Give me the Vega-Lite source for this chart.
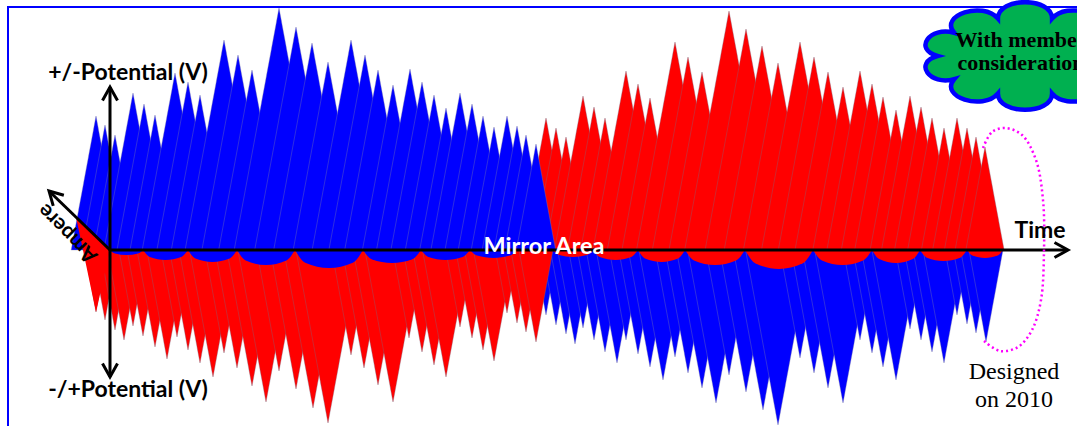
{
  "$schema": "https://vega.github.io/schema/vega-lite/v6.json",
  "width": 1077,
  "height": 426,
  "autosize": {"type": "none"},
  "padding": 0,
  "background": "white",
  "config": {"view": {"stroke": null}},
  "datasets": {
    "topBlue": [
      {"k":1,"t":71.2,"v":0},{"k":1,"t":96,"v":134},{"k":1,"t":120.8,"v":0},
      {"k":2,"t":81.9,"v":0},{"k":2,"t":105,"v":125},{"k":2,"t":128.1,"v":0},
      {"k":3,"t":93.7,"v":0},{"k":3,"t":115,"v":115},{"k":3,"t":136.3,"v":0},
      {"k":4,"t":103.9,"v":0},{"k":4,"t":133,"v":157},{"k":4,"t":162.1,"v":0},
      {"k":5,"t":117,"v":0},{"k":5,"t":144,"v":146},{"k":5,"t":171,"v":0},
      {"k":6,"t":130,"v":0},{"k":6,"t":155,"v":135},{"k":6,"t":180,"v":0},
      {"k":7,"t":142.2,"v":0},{"k":7,"t":175,"v":177},{"k":7,"t":207.8,"v":0},
      {"k":8,"t":156.9,"v":0},{"k":8,"t":188,"v":168},{"k":8,"t":219.1,"v":0},
      {"k":9,"t":171.3,"v":0},{"k":9,"t":200,"v":155},{"k":9,"t":228.7,"v":0},
      {"k":10,"t":185.1,"v":0},{"k":10,"t":224,"v":210},{"k":10,"t":262.9,"v":0},
      {"k":11,"t":201.9,"v":0},{"k":11,"t":238,"v":195},{"k":11,"t":274.1,"v":0},
      {"k":12,"t":218.7,"v":0},{"k":12,"t":252,"v":180},{"k":12,"t":285.3,"v":0},
      {"k":13,"t":234.2,"v":0},{"k":13,"t":279,"v":242},{"k":13,"t":323.8,"v":0},
      {"k":14,"t":254.7,"v":0},{"k":14,"t":296,"v":223},{"k":14,"t":337.3,"v":0},
      {"k":15,"t":273.7,"v":0},{"k":15,"t":312,"v":207},{"k":15,"t":350.3,"v":0},
      {"k":16,"t":293.2,"v":0},{"k":16,"t":328,"v":188},{"k":16,"t":362.8,"v":0},
      {"k":17,"t":312.1,"v":0},{"k":17,"t":351,"v":210},{"k":17,"t":389.9,"v":0},
      {"k":18,"t":328.9,"v":0},{"k":18,"t":365,"v":195},{"k":18,"t":401.1,"v":0},
      {"k":19,"t":344.7,"v":0},{"k":19,"t":378,"v":180},{"k":19,"t":411.3,"v":0},
      {"k":20,"t":362.4,"v":0},{"k":20,"t":393,"v":165},{"k":20,"t":423.6,"v":0},
      {"k":21,"t":376.5,"v":0},{"k":21,"t":410,"v":181},{"k":21,"t":443.5,"v":0},
      {"k":22,"t":390.9,"v":0},{"k":22,"t":422,"v":168},{"k":22,"t":453.1,"v":0},
      {"k":23,"t":405.3,"v":0},{"k":23,"t":434,"v":155},{"k":23,"t":462.7,"v":0},
      {"k":24,"t":419.7,"v":0},{"k":24,"t":446,"v":142},{"k":24,"t":472.3,"v":0},
      {"k":25,"t":430.9,"v":0},{"k":25,"t":460,"v":157},{"k":25,"t":489.1,"v":0},
      {"k":26,"t":445,"v":0},{"k":26,"t":472,"v":146},{"k":26,"t":499,"v":0},
      {"k":27,"t":458.2,"v":0},{"k":27,"t":483,"v":134},{"k":27,"t":507.8,"v":0},
      {"k":28,"t":471.2,"v":0},{"k":28,"t":494,"v":123},{"k":28,"t":516.8,"v":0},
      {"k":29,"t":482.2,"v":0},{"k":29,"t":507,"v":134},{"k":29,"t":531.8,"v":0},
      {"k":30,"t":494,"v":0},{"k":30,"t":517,"v":124},{"k":30,"t":540,"v":0},
      {"k":31,"t":504.7,"v":0},{"k":31,"t":526,"v":115},{"k":31,"t":547.3,"v":0},
      {"k":32,"t":516.4,"v":0},{"k":32,"t":536,"v":106},{"k":32,"t":555.6,"v":0}
    ],
    "topRed": [
      {"k":1,"t":521.6,"v":0},{"k":1,"t":546,"v":132},{"k":1,"t":570.4,"v":0},
      {"k":2,"t":533.4,"v":0},{"k":2,"t":556,"v":122},{"k":2,"t":578.6,"v":0},
      {"k":3,"t":545.1,"v":0},{"k":3,"t":566,"v":113},{"k":3,"t":586.9,"v":0},
      {"k":4,"t":554.5,"v":0},{"k":4,"t":583,"v":154},{"k":4,"t":611.5,"v":0},
      {"k":5,"t":567.5,"v":0},{"k":5,"t":594,"v":143},{"k":5,"t":620.5,"v":0},
      {"k":6,"t":580.6,"v":0},{"k":6,"t":605,"v":132},{"k":6,"t":629.4,"v":0},
      {"k":7,"t":592.9,"v":0},{"k":7,"t":626,"v":179},{"k":7,"t":659.1,"v":0},
      {"k":8,"t":607.3,"v":0},{"k":8,"t":638,"v":166},{"k":8,"t":668.7,"v":0},
      {"k":9,"t":621.9,"v":0},{"k":9,"t":650,"v":152},{"k":9,"t":678.1,"v":0},
      {"k":10,"t":636.5,"v":0},{"k":10,"t":675,"v":208},{"k":10,"t":713.5,"v":0},
      {"k":11,"t":652.3,"v":0},{"k":11,"t":688,"v":193},{"k":11,"t":723.7,"v":0},
      {"k":12,"t":669,"v":0},{"k":12,"t":702,"v":178},{"k":12,"t":735,"v":0},
      {"k":13,"t":684.7,"v":0},{"k":13,"t":729,"v":239},{"k":13,"t":773.3,"v":0},
      {"k":14,"t":705.1,"v":0},{"k":14,"t":746,"v":221},{"k":14,"t":786.9,"v":0},
      {"k":15,"t":724.2,"v":0},{"k":15,"t":762,"v":204},{"k":15,"t":799.8,"v":0},
      {"k":16,"t":743.4,"v":0},{"k":16,"t":778,"v":187},{"k":16,"t":812.6,"v":0},
      {"k":17,"t":761.5,"v":0},{"k":17,"t":800,"v":208},{"k":17,"t":838.5,"v":0},
      {"k":18,"t":778.3,"v":0},{"k":18,"t":814,"v":193},{"k":18,"t":849.7,"v":0},
      {"k":19,"t":795,"v":0},{"k":19,"t":828,"v":178},{"k":19,"t":861,"v":0},
      {"k":20,"t":812.8,"v":0},{"k":20,"t":843,"v":163},{"k":20,"t":873.2,"v":0},
      {"k":21,"t":826.9,"v":0},{"k":21,"t":860,"v":179},{"k":21,"t":893.1,"v":0},
      {"k":22,"t":841.3,"v":0},{"k":22,"t":872,"v":166},{"k":22,"t":902.7,"v":0},
      {"k":23,"t":854.7,"v":0},{"k":23,"t":883,"v":153},{"k":23,"t":911.3,"v":0},
      {"k":24,"t":870.1,"v":0},{"k":24,"t":896,"v":140},{"k":24,"t":921.9,"v":0},
      {"k":25,"t":881.5,"v":0},{"k":25,"t":910,"v":154},{"k":25,"t":938.5,"v":0},
      {"k":26,"t":894.5,"v":0},{"k":26,"t":921,"v":143},{"k":26,"t":947.5,"v":0},
      {"k":27,"t":907.6,"v":0},{"k":27,"t":932,"v":132},{"k":27,"t":956.4,"v":0},
      {"k":28,"t":921.4,"v":0},{"k":28,"t":944,"v":122},{"k":28,"t":966.6,"v":0},
      {"k":29,"t":932.6,"v":0},{"k":29,"t":957,"v":132},{"k":29,"t":981.4,"v":0},
      {"k":30,"t":944.4,"v":0},{"k":30,"t":967,"v":122},{"k":30,"t":989.6,"v":0},
      {"k":31,"t":955.1,"v":0},{"k":31,"t":976,"v":113},{"k":31,"t":996.9,"v":0},
      {"k":32,"t":965.9,"v":0},{"k":32,"t":985,"v":103},{"k":32,"t":1004.1,"v":0}
    ],
    "botRed": [
      {"k":1,"t":84.5,"v":0},{"k":1,"t":96,"v":-62},{"k":1,"t":107.5,"v":0},
      {"k":2,"t":92,"v":0},{"k":2,"t":105,"v":-70},{"k":2,"t":118,"v":0},
      {"k":3,"t":100.2,"v":0},{"k":3,"t":115,"v":-80},{"k":3,"t":129.8,"v":0},
      {"k":4,"t":107.3,"v":0},{"k":4,"t":124,"v":-90},{"k":4,"t":140.7,"v":0},
      {"k":5,"t":118.9,"v":0},{"k":5,"t":133,"v":-76},{"k":5,"t":147.1,"v":0},
      {"k":6,"t":127.1,"v":0},{"k":6,"t":143,"v":-86},{"k":6,"t":158.9,"v":0},
      {"k":7,"t":137,"v":0},{"k":7,"t":155,"v":-97},{"k":7,"t":173,"v":0},
      {"k":8,"t":146.8,"v":0},{"k":8,"t":167,"v":-109},{"k":8,"t":187.2,"v":0},
      {"k":9,"t":160.9,"v":0},{"k":9,"t":177,"v":-87},{"k":9,"t":193.1,"v":0},
      {"k":10,"t":169.5,"v":0},{"k":10,"t":188,"v":-100},{"k":10,"t":206.5,"v":0},
      {"k":11,"t":179.1,"v":0},{"k":11,"t":200,"v":-113},{"k":11,"t":220.9,"v":0},
      {"k":12,"t":189.5,"v":0},{"k":12,"t":213,"v":-127},{"k":12,"t":236.5,"v":0},
      {"k":13,"t":204.9,"v":0},{"k":13,"t":224,"v":-103},{"k":13,"t":243.1,"v":0},
      {"k":14,"t":215.1,"v":0},{"k":14,"t":237,"v":-118},{"k":14,"t":258.9,"v":0},
      {"k":15,"t":226.8,"v":0},{"k":15,"t":252,"v":-136},{"k":15,"t":277.2,"v":0},
      {"k":16,"t":237.9,"v":0},{"k":16,"t":266,"v":-152},{"k":16,"t":294.1,"v":0},
      {"k":17,"t":256.6,"v":0},{"k":17,"t":279,"v":-121},{"k":17,"t":301.4,"v":0},
      {"k":18,"t":270.3,"v":0},{"k":18,"t":296,"v":-139},{"k":18,"t":321.7,"v":0},
      {"k":19,"t":283.7,"v":0},{"k":19,"t":313,"v":-158},{"k":19,"t":342.3,"v":0},
      {"k":20,"t":296,"v":0},{"k":20,"t":328,"v":-173},{"k":20,"t":360,"v":0},
      {"k":21,"t":331.6,"v":0},{"k":21,"t":351,"v":-105},{"k":21,"t":370.4,"v":0},
      {"k":22,"t":342.1,"v":0},{"k":22,"t":364,"v":-118},{"k":22,"t":385.9,"v":0},
      {"k":23,"t":353,"v":0},{"k":23,"t":378,"v":-135},{"k":23,"t":403,"v":0},
      {"k":24,"t":364.9,"v":0},{"k":24,"t":393,"v":-152},{"k":24,"t":421.1,"v":0},
      {"k":25,"t":392.7,"v":0},{"k":25,"t":409,"v":-88},{"k":25,"t":425.3,"v":0},
      {"k":26,"t":403.1,"v":0},{"k":26,"t":422,"v":-102},{"k":26,"t":440.9,"v":0},
      {"k":27,"t":412.7,"v":0},{"k":27,"t":434,"v":-115},{"k":27,"t":455.3,"v":0},
      {"k":28,"t":422.5,"v":0},{"k":28,"t":446,"v":-127},{"k":28,"t":469.5,"v":0},
      {"k":29,"t":445.7,"v":0},{"k":29,"t":460,"v":-77},{"k":29,"t":474.3,"v":0},
      {"k":30,"t":455.7,"v":0},{"k":30,"t":472,"v":-88},{"k":30,"t":488.3,"v":0},
      {"k":31,"t":464.5,"v":0},{"k":31,"t":483,"v":-100},{"k":31,"t":501.5,"v":0},
      {"k":32,"t":473.4,"v":0},{"k":32,"t":494,"v":-111},{"k":32,"t":514.6,"v":0},
      {"k":33,"t":495.3,"v":0},{"k":33,"t":507,"v":-63},{"k":33,"t":518.7,"v":0},
      {"k":34,"t":503.5,"v":0},{"k":34,"t":517,"v":-73},{"k":34,"t":530.5,"v":0},
      {"k":35,"t":510.8,"v":0},{"k":35,"t":526,"v":-82},{"k":35,"t":541.2,"v":0},
      {"k":36,"t":519,"v":0},{"k":36,"t":536,"v":-92},{"k":36,"t":553,"v":0}
    ],
    "botBlue": [
      {"k":1,"t":534,"v":0},{"k":1,"t":546,"v":-65},{"k":1,"t":558,"v":0},
      {"k":2,"t":542.1,"v":0},{"k":2,"t":556,"v":-75},{"k":2,"t":569.9,"v":0},
      {"k":3,"t":550.4,"v":0},{"k":3,"t":566,"v":-84},{"k":3,"t":581.6,"v":0},
      {"k":4,"t":557.6,"v":0},{"k":4,"t":575,"v":-94},{"k":4,"t":592.4,"v":0},
      {"k":5,"t":568.6,"v":0},{"k":5,"t":583,"v":-78},{"k":5,"t":597.4,"v":0},
      {"k":6,"t":577.3,"v":0},{"k":6,"t":594,"v":-90},{"k":6,"t":610.7,"v":0},
      {"k":7,"t":586.1,"v":0},{"k":7,"t":605,"v":-102},{"k":7,"t":623.9,"v":0},
      {"k":8,"t":596.1,"v":0},{"k":8,"t":617,"v":-113},{"k":8,"t":637.9,"v":0},
      {"k":9,"t":609.3,"v":0},{"k":9,"t":626,"v":-90},{"k":9,"t":642.7,"v":0},
      {"k":10,"t":618.7,"v":0},{"k":10,"t":638,"v":-104},{"k":10,"t":657.3,"v":0},
      {"k":11,"t":628.3,"v":0},{"k":11,"t":650,"v":-117},{"k":11,"t":671.7,"v":0},
      {"k":12,"t":638.9,"v":0},{"k":12,"t":663,"v":-130},{"k":12,"t":687.1,"v":0},
      {"k":13,"t":655.2,"v":0},{"k":13,"t":675,"v":-107},{"k":13,"t":694.8,"v":0},
      {"k":14,"t":665.2,"v":0},{"k":14,"t":688,"v":-123},{"k":14,"t":710.8,"v":0},
      {"k":15,"t":676.4,"v":0},{"k":15,"t":702,"v":-138},{"k":15,"t":727.6,"v":0},
      {"k":16,"t":687.7,"v":0},{"k":16,"t":716,"v":-153},{"k":16,"t":744.3,"v":0},
      {"k":17,"t":705.9,"v":0},{"k":17,"t":729,"v":-125},{"k":17,"t":752.1,"v":0},
      {"k":18,"t":719.7,"v":0},{"k":18,"t":746,"v":-142},{"k":18,"t":772.3,"v":0},
      {"k":19,"t":733.4,"v":0},{"k":19,"t":763,"v":-160},{"k":19,"t":792.6,"v":0},
      {"k":20,"t":745.6,"v":0},{"k":20,"t":778,"v":-175},{"k":20,"t":810.4,"v":0},
      {"k":21,"t":780,"v":0},{"k":21,"t":800,"v":-108},{"k":21,"t":820,"v":0},
      {"k":22,"t":791.2,"v":0},{"k":22,"t":814,"v":-123},{"k":22,"t":836.8,"v":0},
      {"k":23,"t":802.4,"v":0},{"k":23,"t":828,"v":-138},{"k":23,"t":853.6,"v":0},
      {"k":24,"t":814.7,"v":0},{"k":24,"t":843,"v":-153},{"k":24,"t":871.3,"v":0},
      {"k":25,"t":843.3,"v":0},{"k":25,"t":860,"v":-90},{"k":25,"t":876.7,"v":0},
      {"k":26,"t":852.9,"v":0},{"k":26,"t":872,"v":-103},{"k":26,"t":891.1,"v":0},
      {"k":27,"t":861.3,"v":0},{"k":27,"t":883,"v":-117},{"k":27,"t":904.7,"v":0},
      {"k":28,"t":871.9,"v":0},{"k":28,"t":896,"v":-130},{"k":28,"t":920.1,"v":0},
      {"k":29,"t":895.4,"v":0},{"k":29,"t":910,"v":-79},{"k":29,"t":924.6,"v":0},
      {"k":30,"t":904.3,"v":0},{"k":30,"t":921,"v":-90},{"k":30,"t":937.7,"v":0},
      {"k":31,"t":913.1,"v":0},{"k":31,"t":932,"v":-102},{"k":31,"t":950.9,"v":0},
      {"k":32,"t":923.1,"v":0},{"k":32,"t":944,"v":-113},{"k":32,"t":964.9,"v":0},
      {"k":33,"t":945,"v":0},{"k":33,"t":957,"v":-65},{"k":33,"t":969,"v":0},
      {"k":34,"t":953.3,"v":0},{"k":34,"t":967,"v":-74},{"k":34,"t":980.7,"v":0},
      {"k":35,"t":960.6,"v":0},{"k":35,"t":976,"v":-83},{"k":35,"t":991.4,"v":0},
      {"k":36,"t":969,"v":0},{"k":36,"t":986,"v":-92},{"k":36,"t":1003,"v":0}
    ],
    "scallopBlue": [
      {"k":1,"t":110,"v":0},{"k":1,"t":115,"v":-3.5},{"k":1,"t":126.5,"v":-5},{"k":1,"t":138,"v":-3.5},{"k":1,"t":143,"v":0},
      {"k":2,"t":143,"v":0},{"k":2,"t":149.8,"v":-7},{"k":2,"t":165.5,"v":-10},{"k":2,"t":181.2,"v":-7},{"k":2,"t":188,"v":0},
      {"k":3,"t":188,"v":0},{"k":3,"t":195.4,"v":-8.5},{"k":3,"t":212.5,"v":-12},{"k":3,"t":229.6,"v":-8.5},{"k":3,"t":237,"v":0},
      {"k":4,"t":237,"v":0},{"k":4,"t":245.7,"v":-10.5},{"k":4,"t":266,"v":-15},{"k":4,"t":286.3,"v":-10.5},{"k":4,"t":295,"v":0},
      {"k":5,"t":295,"v":0},{"k":5,"t":305.2,"v":-12.7},{"k":5,"t":329,"v":-18},{"k":5,"t":352.8,"v":-12.7},{"k":5,"t":363,"v":0},
      {"k":6,"t":363,"v":0},{"k":6,"t":371.7,"v":-9.2},{"k":6,"t":392,"v":-13},{"k":6,"t":412.3,"v":-9.2},{"k":6,"t":421,"v":0},
      {"k":7,"t":421,"v":0},{"k":7,"t":428.4,"v":-7},{"k":7,"t":445.5,"v":-10},{"k":7,"t":462.6,"v":-7},{"k":7,"t":470,"v":0},
      {"k":8,"t":470,"v":0},{"k":8,"t":477,"v":-5.6},{"k":8,"t":493.5,"v":-8},{"k":8,"t":510,"v":-5.6},{"k":8,"t":517,"v":0}
    ],
    "scallopRed": [
      {"k":1,"t":553,"v":0},{"k":1,"t":559,"v":-5},{"k":1,"t":573,"v":-7},{"k":1,"t":587,"v":-5},{"k":1,"t":593,"v":0},
      {"k":2,"t":593,"v":0},{"k":2,"t":599.8,"v":-7},{"k":2,"t":615.5,"v":-10},{"k":2,"t":631.2,"v":-7},{"k":2,"t":638,"v":0},
      {"k":3,"t":638,"v":0},{"k":3,"t":645,"v":-8.5},{"k":3,"t":661.5,"v":-12},{"k":3,"t":678,"v":-8.5},{"k":3,"t":685,"v":0},
      {"k":4,"t":685,"v":0},{"k":4,"t":694,"v":-10.5},{"k":4,"t":715,"v":-15},{"k":4,"t":736,"v":-10.5},{"k":4,"t":745,"v":0},
      {"k":5,"t":745,"v":0},{"k":5,"t":755.2,"v":-13.3},{"k":5,"t":779,"v":-19},{"k":5,"t":802.8,"v":-13.3},{"k":5,"t":813,"v":0},
      {"k":6,"t":813,"v":0},{"k":6,"t":821.9,"v":-10.5},{"k":6,"t":842.5,"v":-15},{"k":6,"t":863.1,"v":-10.5},{"k":6,"t":872,"v":0},
      {"k":7,"t":872,"v":0},{"k":7,"t":879.2,"v":-9.1},{"k":7,"t":896,"v":-13},{"k":7,"t":912.8,"v":-9.1},{"k":7,"t":920,"v":0},
      {"k":8,"t":920,"v":0},{"k":8,"t":927,"v":-7.7},{"k":8,"t":943.5,"v":-11},{"k":8,"t":960,"v":-7.7},{"k":8,"t":967,"v":0},
      {"k":9,"t":967,"v":0},{"k":9,"t":972.4,"v":-5.6},{"k":9,"t":985,"v":-8},{"k":9,"t":997.6,"v":-5.6},{"k":9,"t":1003,"v":0}
    ],
    "wedge": [
      {"t":76,"v":33,"v2":33},
      {"t":96,"v":13.5,"v2":-62},
      {"t":110,"v":0,"v2":0}
    ],
    "segments": [
      {"t":110,"v":163,"t2":110,"v2":-127},
      {"t":110,"v":0,"t2":1067,"v2":0},
      {"t":110,"v":0,"t2":50,"v2":58}
    ],
    "tips": [
      {"a":"up","t":110,"v":163},
      {"a":"down","t":110,"v":-127},
      {"a":"right","t":1068,"v":0},
      {"a":"diag","t":49,"v":59}
    ],
    "ellipse": [
      {"i":1,"t":983,"v":102},{"i":2,"t":992,"v":118},{"i":3,"t":1005,"v":122},
      {"i":4,"t":1022,"v":115},{"i":5,"t":1036,"v":90},{"i":6,"t":1043,"v":50},
      {"i":7,"t":1044,"v":0},{"i":8,"t":1041,"v":-50},{"i":9,"t":1032,"v":-80},
      {"i":10,"t":1018,"v":-97},{"i":11,"t":1000,"v":-101},{"i":12,"t":984,"v":-91}
    ],
    "frame": [{"t":8,"v":243,"t2":1400,"v2":-400}],
    "cloud": [{"t":1025,"v":194}],
    "labels": [
      {"kind":"axis","label":"+/-Potential (V)","t":128,"v":177},
      {"kind":"axis","label":"-/+Potential (V)","t":128,"v":-140},
      {"kind":"axis","label":"Time","t":1040,"v":19},
      {"kind":"mirror","label":"Mirror Area","t":544,"v":3},
      {"kind":"ampere","label":"Ampere","t":68,"v":17},
      {"kind":"note","label":"Designed","t":1014,"v":-122},
      {"kind":"note","label":"on 2010","t":1014,"v":-150},
      {"kind":"cloud","label":"With member","t":1021,"v":210},
      {"kind":"cloud","label":"consideration","t":1021,"v":187}
    ]
  },
  "encoding": {
    "x": {"field": "t", "type": "quantitative", "scale": {"domain": [0, 1077], "nice": false, "zero": false}, "axis": null},
    "y": {"field": "v", "type": "quantitative", "scale": {"domain": [-176, 250], "nice": false, "zero": false}, "axis": null, "stack": null}
  },
  "layer": [
    {
      "data": {"name": "frame"},
      "mark": {"type": "rect", "fill": null, "fillOpacity": 0, "stroke": "#0000ff", "strokeWidth": 2},
      "encoding": {"x2": {"field": "t2"}, "y2": {"field": "v2"}}
    },
    {
      "data": {"name": "topRed"},
      "mark": {"type": "area", "color": "#ff0000", "stroke": "#7a6a80", "strokeWidth": 0.8, "strokeOpacity": 0.45},
      "encoding": {"detail": {"field": "k", "type": "nominal"}}
    },
    {
      "data": {"name": "topBlue"},
      "mark": {"type": "area", "color": "#0000ff", "stroke": "#8080a8", "strokeWidth": 0.8, "strokeOpacity": 0.45},
      "encoding": {"detail": {"field": "k", "type": "nominal"}}
    },
    {
      "data": {"name": "botBlue"},
      "mark": {"type": "area", "color": "#0000ff", "stroke": "#8080a8", "strokeWidth": 0.8, "strokeOpacity": 0.45},
      "encoding": {"detail": {"field": "k", "type": "nominal"}}
    },
    {
      "data": {"name": "botRed"},
      "mark": {"type": "area", "color": "#ff0000", "stroke": "#7a6a80", "strokeWidth": 0.8, "strokeOpacity": 0.45},
      "encoding": {"detail": {"field": "k", "type": "nominal"}}
    },
    {
      "data": {"name": "scallopBlue"},
      "mark": {"type": "area", "color": "#0000ff", "interpolate": "monotone"},
      "encoding": {"detail": {"field": "k", "type": "nominal"}, "y2": {"datum": 0}}
    },
    {
      "data": {"name": "scallopRed"},
      "mark": {"type": "area", "color": "#ff0000", "interpolate": "monotone"},
      "encoding": {"detail": {"field": "k", "type": "nominal"}, "y2": {"datum": 0}}
    },
    {
      "data": {"name": "wedge"},
      "mark": {"type": "area", "color": "#ff0000"},
      "encoding": {"y2": {"field": "v2"}}
    },
    {
      "data": {"name": "segments"},
      "mark": {"type": "rule", "color": "#000000", "strokeWidth": 3},
      "encoding": {"x2": {"field": "t2"}, "y2": {"field": "v2"}}
    },
    {
      "data": {"name": "tips"},
      "transform": [{"filter": "datum.a === 'up'"}],
      "mark": {"type": "point", "shape": "M -0.5 0.9 L 0 0 L 0.5 0.9", "size": 900, "filled": false, "stroke": "#000000", "strokeWidth": 3, "opacity": 1, "angle": 0}
    },
    {
      "data": {"name": "tips"},
      "transform": [{"filter": "datum.a === 'down'"}],
      "mark": {"type": "point", "shape": "M -0.5 -0.9 L 0 0 L 0.5 -0.9", "size": 900, "filled": false, "stroke": "#000000", "strokeWidth": 3, "opacity": 1, "angle": 0}
    },
    {
      "data": {"name": "tips"},
      "transform": [{"filter": "datum.a === 'right'"}],
      "mark": {"type": "point", "shape": "M -0.9 -0.5 L 0 0 L -0.9 0.5", "size": 900, "filled": false, "stroke": "#000000", "strokeWidth": 3, "opacity": 1, "angle": 0}
    },
    {
      "data": {"name": "tips"},
      "transform": [{"filter": "datum.a === 'diag'"}],
      "mark": {"type": "point", "shape": "M 0.283 0.99 L 0 0 L 0.99 0.283", "size": 900, "filled": false, "stroke": "#000000", "strokeWidth": 3, "opacity": 1, "angle": 0}
    },
    {
      "data": {"name": "ellipse"},
      "mark": {"type": "line", "color": "#ff00ff", "strokeWidth": 2.5, "strokeDash": [2, 3], "interpolate": "catmull-rom"},
      "encoding": {"order": {"field": "i", "type": "quantitative"}}
    },
    {
      "data": {"name": "cloud"},
      "mark": {
        "type": "point",
        "shape": "M 0.85 0 C 1.088 0.065 0.926 0.291 0.688 0.225 C 0.835 0.397 0.41 0.536 0.263 0.364 C 0.263 0.576 -0.263 0.576 -0.263 0.364 C -0.41 0.536 -0.835 0.397 -0.688 0.225 C -0.926 0.291 -1.088 0.065 -0.85 0 C -1.088 -0.065 -0.926 -0.291 -0.688 -0.225 C -0.835 -0.397 -0.41 -0.536 -0.263 -0.364 C -0.263 -0.576 0.263 -0.576 0.263 -0.364 C 0.41 -0.536 0.835 -0.397 0.688 -0.225 C 0.926 -0.291 1.088 -0.065 0.85 0 Z",
        "size": 42400,
        "filled": true,
        "fill": "#00b050",
        "stroke": "#0000ff",
        "strokeWidth": 4.5,
        "opacity": 1
      }
    },
    {
      "data": {"name": "labels"},
      "transform": [{"filter": "datum.kind === 'axis'"}],
      "mark": {"type": "text", "font": "Lato", "fontWeight": "bold", "fontSize": 23, "color": "#000000", "align": "center", "baseline": "middle"},
      "encoding": {"text": {"field": "label"}}
    },
    {
      "data": {"name": "labels"},
      "transform": [{"filter": "datum.kind === 'mirror'"}],
      "mark": {"type": "text", "font": "Lato", "fontWeight": "bold", "fontSize": 23.5, "color": "#ffffff", "align": "center", "baseline": "middle"},
      "encoding": {"text": {"field": "label"}}
    },
    {
      "data": {"name": "labels"},
      "transform": [{"filter": "datum.kind === 'ampere'"}],
      "mark": {"type": "text", "font": "Lato", "fontWeight": "bold", "fontSize": 21, "color": "#000000", "align": "center", "baseline": "middle", "angle": 225},
      "encoding": {"text": {"field": "label"}}
    },
    {
      "data": {"name": "labels"},
      "transform": [{"filter": "datum.kind === 'note'"}],
      "mark": {"type": "text", "font": "Liberation Serif", "fontSize": 24, "color": "#000000", "align": "center", "baseline": "middle"},
      "encoding": {"text": {"field": "label"}}
    },
    {
      "data": {"name": "labels"},
      "transform": [{"filter": "datum.kind === 'cloud'"}],
      "mark": {"type": "text", "font": "Liberation Serif", "fontWeight": "bold", "fontSize": 22, "color": "#000000", "align": "center", "baseline": "middle"},
      "encoding": {"text": {"field": "label"}}
    }
  ]
}
